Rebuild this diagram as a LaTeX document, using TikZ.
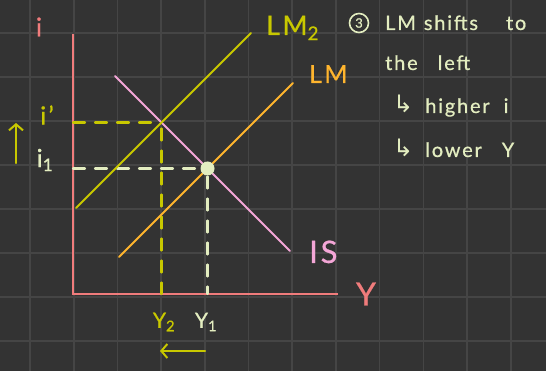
\documentclass[tikz,border=0pt]{standalone}
\usepackage{fontspec}
\setmainfont{Lato}[LetterSpace=9,FakeBold=0.6]
\newfontfamily\arrowfont{DejaVu Sans}
\usetikzlibrary{arrows.meta}

\definecolor{board}{HTML}{333333}
\definecolor{gridgray}{HTML}{454545}
\definecolor{axispink}{HTML}{F07C7C}
\definecolor{ispink}{HTML}{F4A6D7}
\definecolor{lmorange}{HTML}{FFB52E}
\definecolor{lmtwo}{HTML}{C8C800}
\definecolor{cream}{HTML}{E3EDC0}

\begin{document}
\begin{tikzpicture}[
  x=1pt,y=-1pt,
  line cap=round,
  gridline/.style ={draw=gridgray,line width=1.6pt},
  axisline/.style ={draw=axispink,line width=2.4pt,line cap=butt},
  schedule/.style ={line width=2pt},
  dropline/.style ={line width=2.2pt,dash pattern=on 12pt off 10pt},
  lbl/.style      ={inner sep=0pt},
  movearrow/.style={-{Straight Barb[length=6pt,width=14pt,line width=2pt]},
                    line width=2.2pt,draw=lmtwo},
  notetext/.style ={anchor=base west,inner sep=0pt,text=cream,
                    font=\fontsize{20}{24}\selectfont},
  circlednum/.style={circle,draw=cream,line width=1.6pt,inner sep=0pt,
                    minimum size=19pt,text=cream,font=\fontsize{13}{15}\selectfont}]

% --- board and grid ---
\fill[board] (0,0) rectangle (546,371);
\useasboundingbox (0,0) rectangle (546,371);
\foreach \k in {0,...,11}
  \draw[gridline] ({30+43.7*\k},0) -- ({30+43.7*\k},371);
\foreach \k in {0,...,7}
  \draw[gridline] (0,{33+44*\k}) -- (546,{33+44*\k});

% --- axes ---
\coordinate (O)    at (73,294);
\coordinate (ytop) at (73,34);
\coordinate (xend) at (338,294);
\draw[axisline] (ytop) -- (O) -- (xend);
\node[lbl,text=axispink,font=\fontsize{26}{30}\selectfont] (ilabel) at (39,27) {i};
\node[lbl,text=axispink,font=\fontsize{32}{36}\selectfont] (ylabel) at (366,294) {Y};

% --- curve end points and equilibria ---
\coordinate (is-a)  at (115,76);
\coordinate (is-b)  at (290,251);
\coordinate (lm-a)  at (119,257);
\coordinate (lm-b)  at (293,83);
\coordinate (lm2-a) at (76,208);
\coordinate (lm2-b) at (251,33);
\coordinate (e1)    at (207.5,168.5);
\coordinate (e2)    at (161.5,122.5);

% --- dashed guides ---
\draw[dropline,draw=lmtwo] (e2 -| O) -- (e2);
\draw[dropline,draw=lmtwo] (e2) ++(0,6) -- (e2 |- O);
\draw[dropline,draw=cream] (e1 -| O) -- (e1);
\draw[dropline,draw=cream] (e1) ++(0,8) -- (e1 |- O);

% --- IS and LM curves ---
\draw[schedule,draw=ispink]   (is-a)  -- (is-b);
\draw[schedule,draw=lmorange] (lm-a)  -- (lm-b);
\draw[schedule,draw=lmtwo]    (lm2-a) -- (lm2-b);
\node[circle,fill=cream,inner sep=0pt,minimum size=14pt] (eq) at (e1) {};

\node[lbl,anchor=base west,text=ispink,font=\fontsize{31}{34}\selectfont]
  (islabel) at (309,263) {IS};
\node[lbl,anchor=base west,text=lmorange,font=\fontsize{25}{28}\selectfont]
  (lmlabel) at (309,83) {LM};
\node[lbl,anchor=base west,text=lmtwo,font=\fontsize{27}{30}\selectfont]
  (lm2label) at (266,35) {LM\textsubscript{2}};

% --- axis values ---
\node[lbl,text=lmtwo,font=\fontsize{25}{28}\selectfont] (iprime) at (47,115) {i’};
\node[lbl,text=cream,font=\fontsize{25}{28}\selectfont] (ione) at (45,160) {i\textsubscript{1}};
\node[lbl,text=lmtwo,font=\fontsize{21}{24}\selectfont] (ytwo) at (164,322) {Y\textsubscript{2}};
\node[lbl,text=cream,font=\fontsize{21}{24}\selectfont] (yone) at (206,322) {Y\textsubscript{1}};

% --- shift arrows ---
\coordinate (up-a)   at (16,163);
\coordinate (up-b)   at (16,123);
\coordinate (left-a) at (205,351);
\coordinate (left-b) at (160,351);
\draw[movearrow] (up-a) -- (up-b);
\draw[movearrow] (left-a) -- (left-b);

% --- note ---
\node[circlednum] (three) at (359,23) {3};
\node[notetext] (line1) at (385,30) {LM\hspace{8pt}shifts\hspace{28pt}to};
\node[notetext] (line2) at (385,70) {the\hspace{20pt}left};
\node[notetext] (line3) at (393,113) {{\arrowfont\fontsize{24}{26}\selectfont ↳}\hspace{12pt}higher\hspace{14pt}i};
\node[notetext] (line4) at (393,157) {{\arrowfont\fontsize{24}{26}\selectfont ↳}\hspace{12pt}lower\hspace{20pt}Y};

\end{tikzpicture}
\end{document}
